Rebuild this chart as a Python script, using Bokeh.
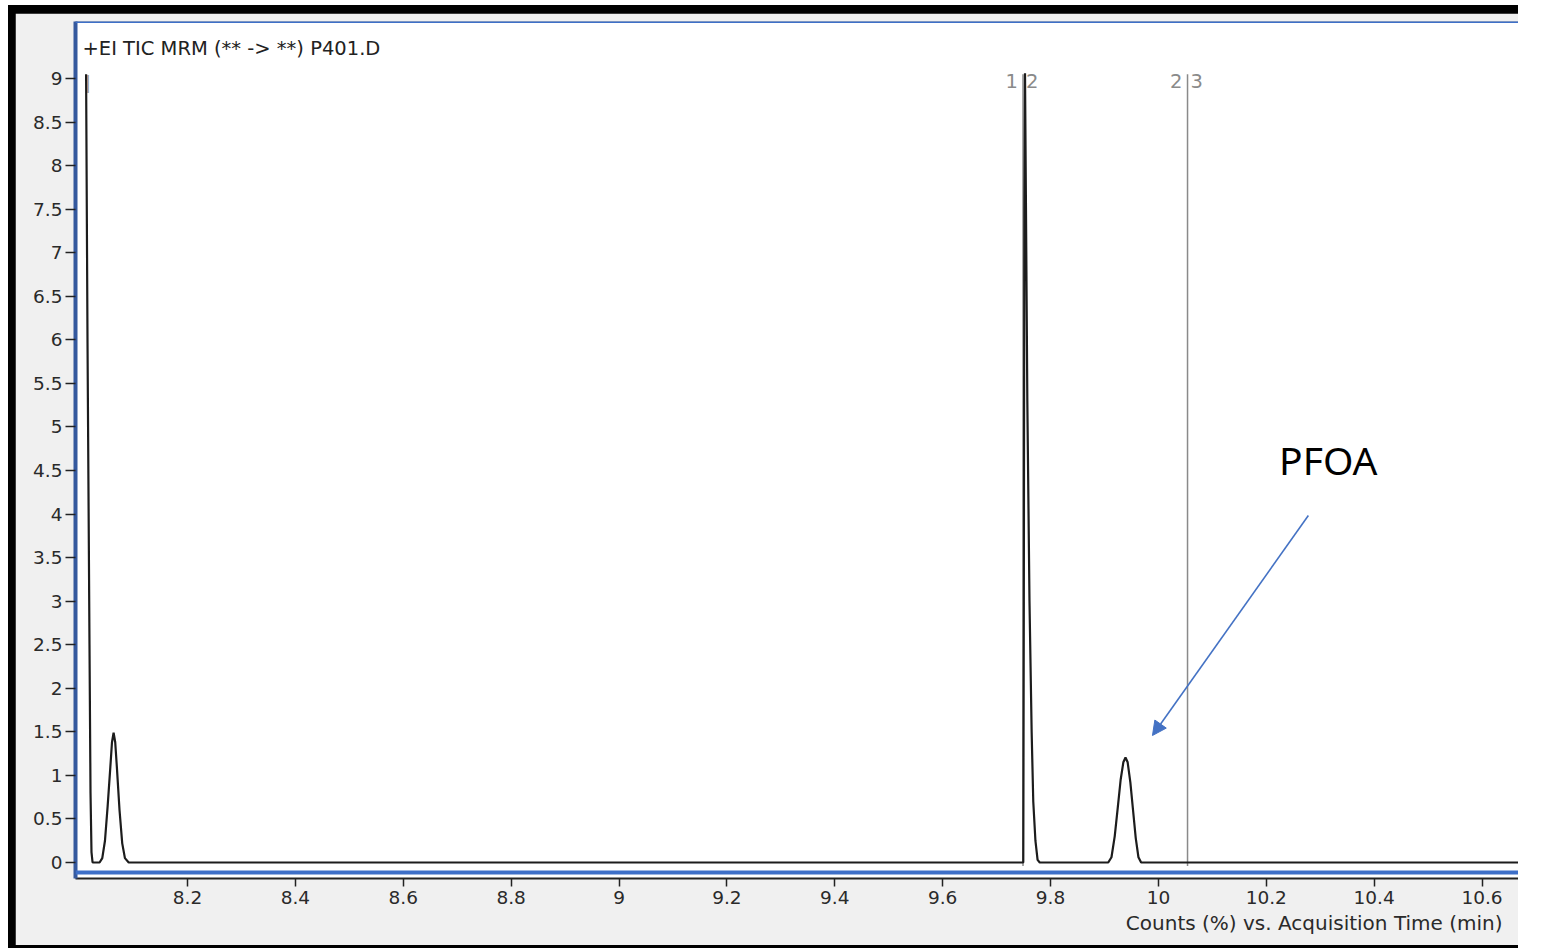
from bokeh.plotting import figure
from bokeh.models import Range1d, FixedTicker, Span, Label, Arrow, NormalHead, ColumnDataSource, Title
from bokeh.layouts import column
from bokeh.core.properties import value
from bokeh.embed import file_html
from bokeh.resources import INLINE

# ---- data ----
time_min = [8.012, 8.0146, 8.0183, 8.0202, 8.022, 8.024, 8.037, 8.042, 8.047, 8.052, 8.057,
            8.060, 8.063, 8.066, 8.069, 8.074, 8.079, 8.084, 8.091,
            9.7495, 9.7505, 9.7515, 9.7527, 9.7545, 9.757, 9.761, 9.765, 9.768, 9.772, 9.776, 9.780,
            9.907, 9.913, 9.919, 9.925, 9.930, 9.935, 9.939, 9.943, 9.948, 9.953, 9.958, 9.963, 9.968,
            10.667]
counts_pct = [9.05, 6.0, 2.5, 0.8, 0.12, 0.0, 0.0, 0.05, 0.25, 0.65, 1.1,
              1.38, 1.49, 1.38, 1.1, 0.6, 0.22, 0.05, 0.0,
              0.0, 3.0, 7.5, 9.06, 7.5, 5.3, 3.0, 1.5, 0.7, 0.25, 0.03, 0.0,
              0.0, 0.06, 0.3, 0.65, 0.95, 1.15, 1.205, 1.15, 0.92, 0.6, 0.28, 0.06, 0.0,
              0.0]

marker_times = [9.749, 10.054]
marker_left_labels = ["1", "2"]
marker_right_labels = ["2", "3"]

x_tick_values = [8.2, 8.4, 8.6, 8.8, 9.0, 9.2, 9.4, 9.6, 9.8, 10.0, 10.2, 10.4, 10.6]
x_tick_labels = ["8.2", "8.4", "8.6", "8.8", "9", "9.2", "9.4", "9.6", "9.8", "10", "10.2", "10.4", "10.6"]
y_tick_values = [0.0, 0.5, 1.0, 1.5, 2.0, 2.5, 3.0, 3.5, 4.0, 4.5, 5.0, 5.5, 6.0, 6.5, 7.0, 7.5, 8.0, 8.5, 9.0]
y_tick_labels = ["0", "0.5", "1", "1.5", "2", "2.5", "3", "3.5", "4", "4.5", "5", "5.5", "6", "6.5",
                 "7", "7.5", "8", "8.5", "9"]

title_text = "+EI TIC MRM (** -> **) P401.D"
x_label_text = "Counts (%) vs. Acquisition Time (min)"
annot_text = "PFOA"
annot_text_pos = [10.315, 4.626]
arrow_start = [10.278, 3.983]
arrow_end = [9.989, 1.458]

FONT = "DejaVu Sans"
BLUE = "#3d6fc8"

p = figure(width=1503, height=932, output_backend="svg", toolbar_location=None,
           x_range=Range1d(7.99236, 10.6676), y_range=Range1d(-0.1837, 9.6544),
           min_border_left=60, min_border_right=0, min_border_top=8, min_border_bottom=67)
p.background_fill_color = "white"
p.border_fill_color = "#f0f0f0"
p.outline_line_color = None
p.grid.visible = False

# x axis
xa = p.xaxis[0]
xa.ticker = FixedTicker(ticks=x_tick_values)
xa.major_label_overrides = dict(zip(x_tick_values, x_tick_labels))
xa.axis_line_color = "#222222"
xa.axis_line_width = 2
xa.major_tick_line_color = "#222222"
xa.major_tick_line_width = 1.5
xa.major_tick_out = 8
xa.major_tick_in = 0
xa.minor_tick_line_color = None
xa.major_label_standoff = 4
xa.major_label_text_font = FONT
xa.major_label_text_font_size = "18.5px"
xa.major_label_text_color = "#2a2a2a"

# y axis
ya = p.yaxis[0]
ya.ticker = FixedTicker(ticks=y_tick_values)
ya.major_label_overrides = dict(zip(y_tick_values, y_tick_labels))
ya.axis_line_color = "#35599e"
ya.axis_line_width = 4
ya.major_tick_line_color = "#222222"
ya.major_tick_line_width = 1.5
ya.major_tick_out = 10
ya.major_tick_in = 0
ya.minor_tick_line_color = None
ya.major_label_standoff = 3
ya.major_label_text_font = FONT
ya.major_label_text_font_size = "18.5px"
ya.major_label_text_color = "#2a2a2a"

# axis caption, right aligned under the x axis
p.add_layout(Title(text=x_label_text, align="right", offset=16, standoff=5,
                   text_font=FONT, text_font_size="20px", text_font_style="normal",
                   text_color="#2a2a2a"), "below")

# blue frame lines top and bottom
p.add_layout(Span(location=9.6544, dimension="width", line_color=BLUE, line_width=3))
p.add_layout(Span(location=-0.1148, dimension="width", line_color=BLUE, line_width=4))

# marker lines
msrc = ColumnDataSource(dict(t=marker_times, l=marker_left_labels, r=marker_right_labels))
p.segment(x0="t", x1="t", y0=-0.04, y1=9.05, source=msrc, line_color="#8a8a8a", line_width=1.5)
p.text(x="t", y=8.977, text="l", source=msrc, x_offset=-5, text_align="right", text_baseline="middle",
       text_font=value(FONT), text_font_size="19.5px", text_color="#8a8a8a")
p.text(x="t", y=8.977, text="r", source=msrc, x_offset=3, text_align="left", text_baseline="middle",
       text_font=value(FONT), text_font_size="19.5px", text_color="#8a8a8a")
p.text(x=[8.0155], y=[8.95], text=["|"], text_align="center", text_baseline="middle",
       text_font=value(FONT), text_font_size="18px", text_color="#9a9a9a")

# trace
p.line(x=time_min, y=counts_pct, line_color="#1c1c1c", line_width=2.2)

# texts
p.add_layout(Label(x=8.0053, y=9.344, text=title_text, text_font=FONT, text_font_size="19.5px",
                   text_color="#222222", text_baseline="middle", text_align="left"))
p.add_layout(Label(x=annot_text_pos[0], y=annot_text_pos[1], text=annot_text, text_font="Noto Sans",
                   text_font_size="39px", text_color="black", text_baseline="middle", text_align="center"))
p.add_layout(Arrow(end=NormalHead(size=14, fill_color="#4472c4", line_color="#4472c4"),
                   x_start=arrow_start[0], y_start=arrow_start[1], x_end=arrow_end[0], y_end=arrow_end[1],
                   line_color="#4472c4", line_width=1.6))

layout = column(p, styles={"background-color": "black", "padding": "8px 0px 3px 7px",
                           "margin-left": "8px", "margin-top": "5px"})

open("out.html", "w").write(file_html(layout, INLINE))
